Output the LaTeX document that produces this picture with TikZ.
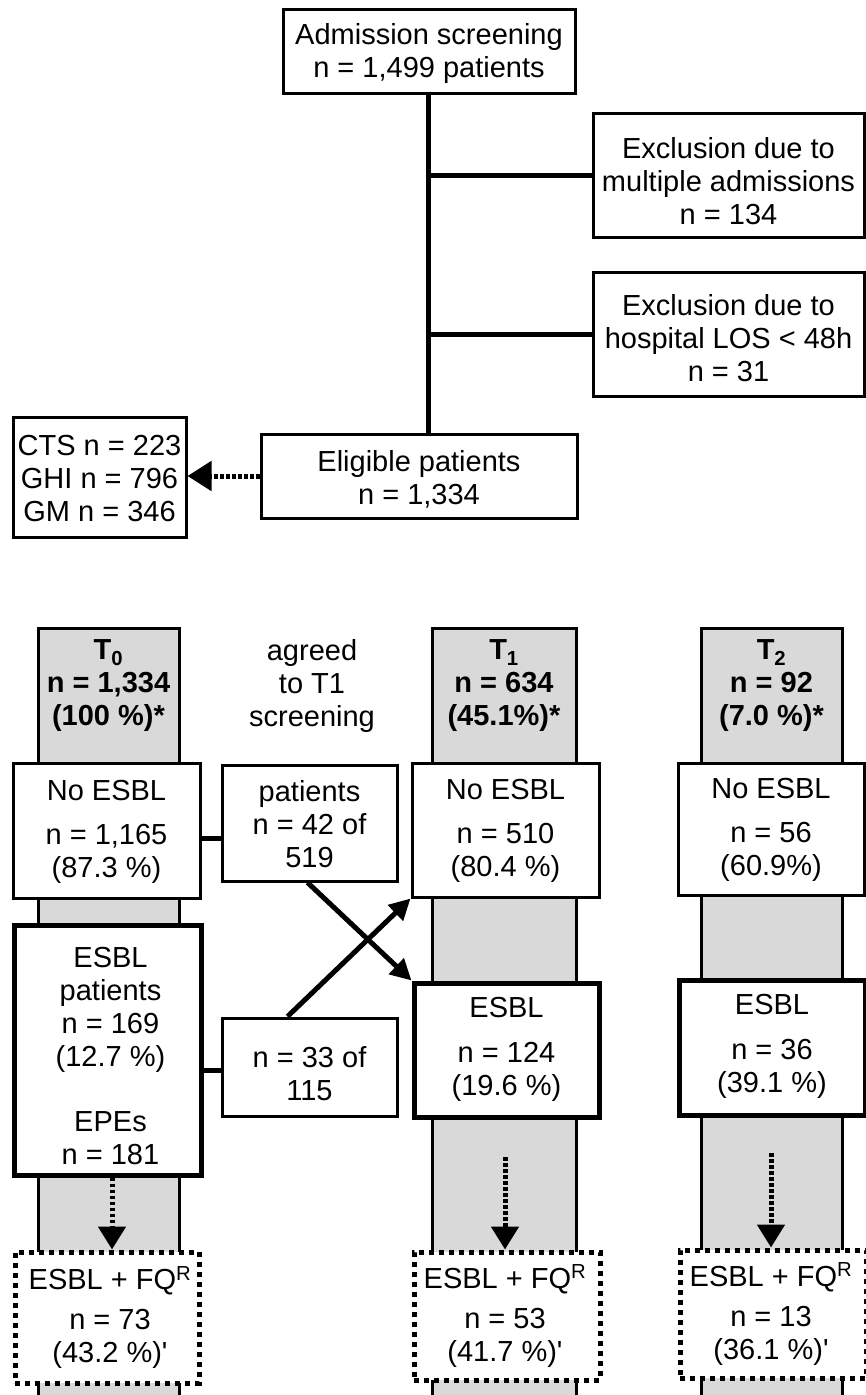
\documentclass[tikz,border=0pt]{standalone}
\usepackage{fontspec}
\setmainfont{Liberation Sans}
\usetikzlibrary{arrows.meta}
\newcommand{\fs}{\fontsize{29}{33}\selectfont}
\begin{document}
\begin{tikzpicture}[x=1pt,y=-1pt,
  box/.style={draw, line width=3pt, fill=white, inner sep=0pt, rectangle},
  thickbox/.style={box, line width=5pt},
  dotbox/.style={box, line width=5pt, dash pattern=on 5pt off 5pt},
  txt/.style={font=\fs, align=center, inner sep=0pt},
  hdr/.style={font=\fs\bfseries, align=center, inner sep=0pt},
  column/.style={draw, line width=3pt, fill=gray!30, inner sep=0pt, rectangle},
  link/.style={line width=5pt},
  arr/.style={line width=5pt, -{Triangle[length=21pt,width=21pt]}},
  dotarr/.style={line width=5pt, dash pattern=on 3.5pt off 2.5pt, -{Triangle[length=23pt,width=27pt]}},
  hdotarr/.style={line width=5pt, dash pattern=on 3.5pt off 2.5pt, -{Triangle[length=24pt,width=29pt]}}
]
\useasboundingbox (0,0) rectangle (866,1395);

% ---- top part ----
\node[box, minimum width=292pt, minimum height=84pt] (adm) at (429,51) {};
\node[txt] (admt) at ([yshift=-2pt]adm.center) {Admission screening\\n = 1,499 patients};

\node[box, minimum width=271pt, minimum height=124pt] (exc1) at (728.5,175) {};
\node[txt] (exc1t) at ([yshift=-6pt]exc1.center) {Exclusion due to\\multiple admissions\\n = 134};

\node[box, minimum width=271pt, minimum height=124pt] (exc2) at (728.5,334) {};
\node[txt] (exc2t) at ([yshift=-4pt]exc2.center) {Exclusion due to\\hospital LOS < 48h\\n = 31};

\node[box, minimum width=316pt, minimum height=84pt] (elig) at (419,476) {};
\node[txt] (eligt) at ([yshift=-3pt]elig.center) {Eligible patients\\n = 1,334};

\node[box, minimum width=173pt, minimum height=120pt] (cts) at (99.5,477) {};
\node[txt] (ctst) at ([yshift=-2pt]cts.center) {CTS n = 223\\GHI n = 796\\GM n = 346};

\coordinate (trunk) at (428,0);
\draw[link] (adm.south -| trunk) -- (elig.north -| trunk);
\draw[link] (trunk |- exc1.west) -- (exc1.west);
\draw[link] (trunk |- exc2.west) -- (exc2.west);
\draw[hdotarr] (elig.west) -- (cts.east |- elig.west);

% ---- columns ----
\node[column, minimum width=141pt, minimum height=800pt] (c0) at (108.5,1028) {};
\node[column, minimum width=144pt, minimum height=800pt] (c1) at (504,1028) {};
\node[column, minimum width=141pt, minimum height=800pt] (c2) at (771.5,1028) {};

\node[hdr] (h0) at (108.5,686) {T\textsubscript{0}\\n = 1,334\\(100 \%)*};
\node[hdr] (h1) at (504,686) {T\textsubscript{1}\\n = 634\\(45.1\%)*};
\node[hdr] (h2) at (771.5,686) {T\textsubscript{2}\\n = 92\\(7.0 \%)*};

\node[txt] (agreed) at (312,686) {agreed\\to T1\\screening};

% ---- T0 ----
\node[box, minimum width=187pt, minimum height=135pt] (ne0) at (106.5,830.5) {};
\node[txt] (ne0t) at ([yshift=-1pt]ne0.center) {No ESBL\\[11pt]n = 1,165\\(87.3 \%)};
\node[thickbox, minimum width=187pt, minimum height=250pt] (e0) at (107.5,1050) {};
\node[txt] (e0t) at ([xshift=3pt,yshift=-6pt]e0.center) {ESBL\\patients\\n = 169\\(12.7 \%)\\[32pt]EPEs\\n = 181};
\node[dotbox, minimum width=184pt, minimum height=131pt] (fq0) at (107,1317.5) {};
\node[txt] (fq0t) at ([xshift=3pt]fq0.center) {ESBL + FQ\textsuperscript{R}\\[7pt]n = 73\\(43.2 \%)\textquotesingle};

% ---- middle boxes ----
\node[box, minimum width=175pt, minimum height=116pt] (pat) at (309.5,823) {};
\node[txt] (patt) at ([yshift=-1pt]pat.center) {patients\\n = 42 of\\519};
\node[box, minimum width=175pt, minimum height=98pt] (n33) at (309.5,1067) {};
\node[txt] (n33t) at ([yshift=-7pt]n33.center) {n = 33 of\\115};

% ---- T1 ----
\node[box, minimum width=187pt, minimum height=134pt] (ne1) at (505.5,830) {};
\node[txt] (ne1t) at ([yshift=-1pt]ne1.center) {No ESBL\\[11pt]n = 510\\(80.4 \%)};
\node[thickbox, minimum width=185pt, minimum height=134pt] (e1) at (506.5,1050) {};
\node[txt] (e1t) at ([yshift=1pt]e1.center) {ESBL\\[12pt]n = 124\\(19.6 \%)};
\node[dotbox, minimum width=186pt, minimum height=128pt] (fq1) at (507,1316) {};
\node[txt] (fq1t) at ([xshift=-2pt]fq1.center) {ESBL + FQ\textsuperscript{R}\\[7pt]n = 53\\(41.7 \%)\textquotesingle};

% ---- T2 ----
\node[box, minimum width=186pt, minimum height=132pt] (ne2) at (771,829) {};
\node[txt] (ne2t) at ([yshift=-1pt]ne2.center) {No ESBL\\[11pt]n = 56\\(60.9\%)};
\node[thickbox, minimum width=186pt, minimum height=135pt] (e2) at (772,1047.5) {};
\node[txt] (e2t) at ([yshift=1pt]e2.center) {ESBL\\[12pt]n = 36\\(39.1 \%)};
\node[dotbox, minimum width=186pt, minimum height=128pt] (fq2) at (773,1314) {};
\node[txt] (fq2t) at ([xshift=-2pt]fq2.center) {ESBL + FQ\textsuperscript{R}\\[7pt]n = 13\\(36.1 \%)\textquotesingle};

% ---- connectors ----
\coordinate (ya) at (0,838);
\coordinate (yb) at (0,1070);
\draw[link] (ne0.east |- ya) -- (pat.west |- ya);
\draw[link] (e0.east |- yb) -- (n33.west |- yb);
\draw[arr] ([xshift=-2pt]pat.south) -- (e1.north west);
\draw[arr] ([xshift=-22pt]n33.north) -- (ne1.south west);

\coordinate (x0) at (112,0);
\coordinate (x1) at (505,0);
\coordinate (x2) at (771,0);
\draw[dotarr] (e0.south -| x0) -- (fq0.north -| x0);
\draw[dotarr] (x1 |- 0,1157) -- (fq1.north -| x1);
\draw[dotarr] (x2 |- 0,1153) -- (fq2.north -| x2);
\end{tikzpicture}
\end{document}
